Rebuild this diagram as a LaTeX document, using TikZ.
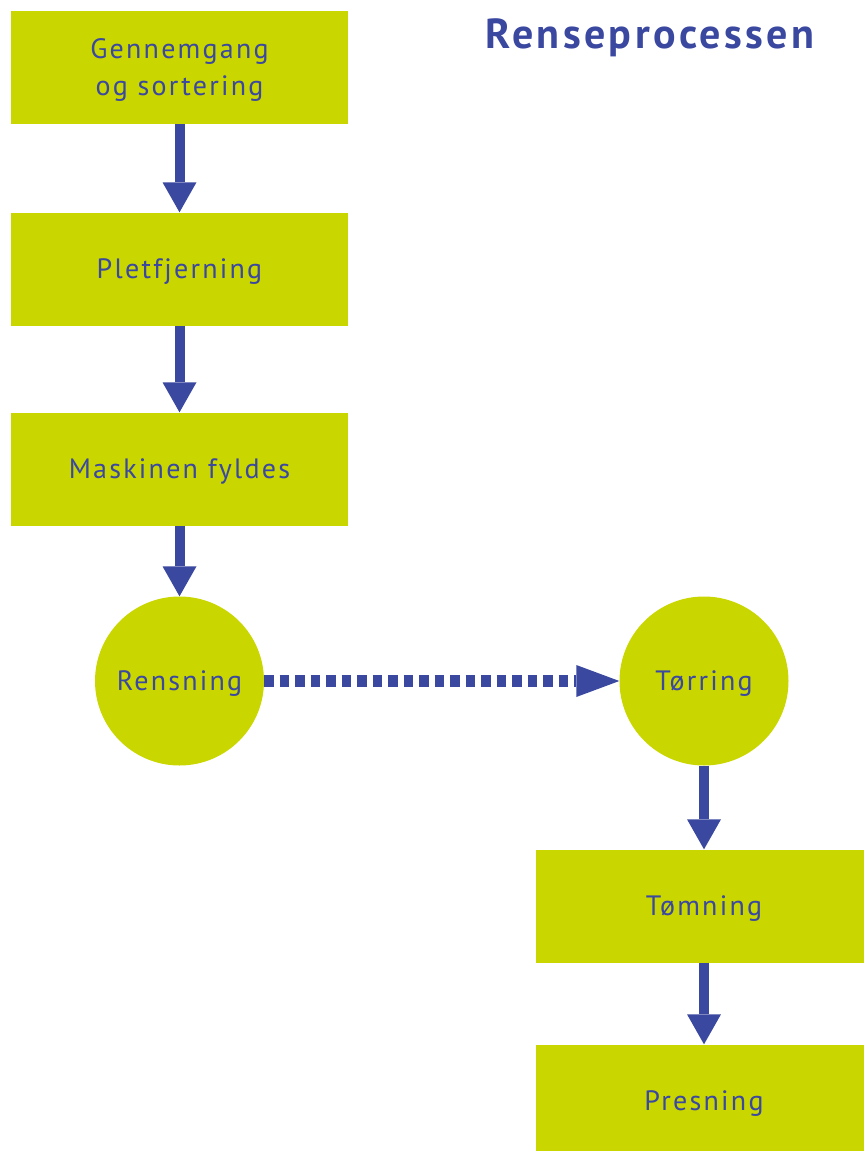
\documentclass[tikz,border=0pt]{standalone}
\usepackage{fontspec}
\setmainfont{PT Sans}[LetterSpace=8]
\usetikzlibrary{arrows.meta}
\definecolor{rlime}{RGB}{202,214,0}
\definecolor{rblue}{RGB}{58,72,160}

\begin{document}
\begin{tikzpicture}[x=1pt, y=-1pt,
    every node/.style={font=\fontsize{28}{37}\selectfont, text=rblue},
    bx/.style={rectangle, fill=rlime, minimum width=337pt, minimum height=113pt,
               inner sep=0pt, align=center, text depth=0pt},
    cr/.style={circle, fill=rlime, minimum size=169pt, inner sep=0pt,
               text depth=0pt},
    e/.style={draw=rblue, line width=10pt,
              -{Triangle[length=30pt, width=34pt, line width=0pt]}},
    ed/.style={draw=rblue, line width=12pt, dash pattern=on 9.5pt off 6pt,
               -{Triangle[length=43pt, width=32pt, line width=0pt]}},
    ttl/.style={font=\fontsize{42}{48}\selectfont\bfseries, anchor=base},
  ]
  \useasboundingbox (0,0) rectangle (864,1151);
  \node[ttl] (title) at (650, 48) {Renseprocessen};
  \node[bx] (sort) at (179.5, 67.5) {Gennemgang\\og sortering};
  \node[bx] (plet) at (179.5, 269) {Pletfjerning};
  \node[bx] (fyld) at (179.5, 469) {Maskinen fyldes};
  \node[cr] (rens) at (179.5, 681) {Rensning};
  \node[cr] (torr) at (704, 681) {Tørring};
  \node[bx] (tom) at (704, 906) {Tømning};
  \node[bx] (pres) at (704, 1101) {Presning};
  \draw[e] (sort) -- (plet);
  \draw[e] (plet) -- (fyld);
  \draw[e] (fyld) -- (rens);
  \draw[ed] (rens) -- (torr);
  \draw[e] (torr) -- (tom);
  \draw[e] (tom) -- (pres);
\end{tikzpicture}
\end{document}
